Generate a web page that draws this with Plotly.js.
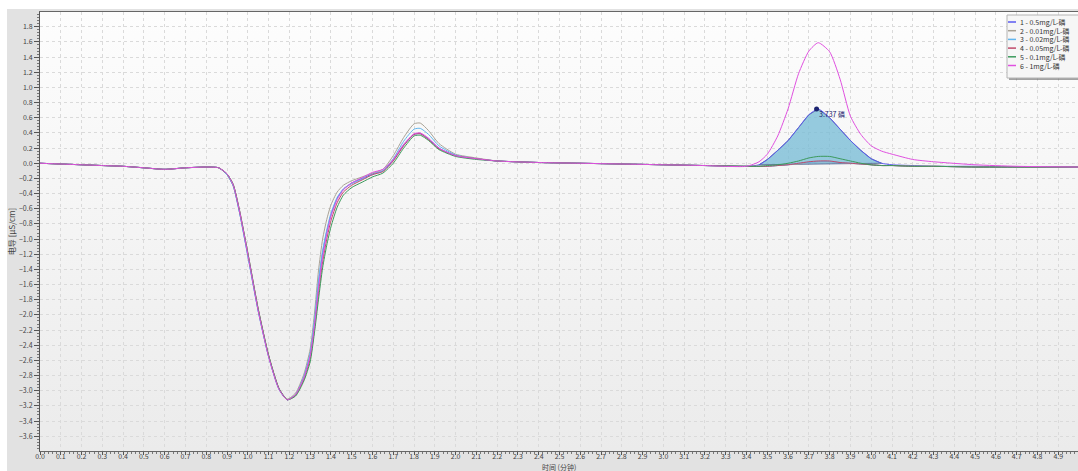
<!DOCTYPE html>
<html><head><meta charset="utf-8">
<script src="https://cdn.plot.ly/plotly-3.0.1.min.js"></script>
<style>html,body{margin:0;padding:0;background:#fff;}#chart{width:1078px;height:471px;}</style>
</head><body><div id="chart"></div>
<script>
// time axis (minutes)
const time = [0,0.1,0.2,0.3,0.4,0.5,0.6,0.7,0.8,0.86,
 0.9,0.93,0.96,1.0,1.05,1.1,1.15,1.19,1.23,1.27,
 1.3,1.32,1.34,1.36,1.38,1.4,1.43,1.46,1.5,1.55,
 1.6,1.65,1.7,1.75,1.8,1.83,1.87,1.92,2.0,2.1,
 2.2,2.4,2.6,2.8,3.0,3.2,3.4,3.46,3.5,3.55,
 3.6,3.65,3.7,3.745,3.8,3.85,3.9,3.95,4.0,4.05,
 4.1,4.2,4.3,4.5,4.7,5.0];

const s1 = [0,-0.01,-0.02,-0.03,-0.04,-0.06,-0.08,-0.06,-0.05,-0.06,
 -0.15,-0.3,-0.65,-1.22,-1.95,-2.55,-2.98,-3.12,-3.05,-2.82,
 -2.52,-2.12,-1.58,-1.18,-0.9,-0.68,-0.46,-0.34,-0.26,-0.2,
 -0.14,-0.1,0.04,0.24,0.38,0.39,0.32,0.2,0.1,0.06,
 0.03,0.01,0,-0.01,-0.02,-0.03,-0.04,-0.02,0.05,0.17,
 0.3,0.47,0.64,0.715,0.6,0.45,0.3,0.17,0.06,0,
 -0.02,-0.03,-0.04,-0.04,-0.05,-0.05];

const s2 = [0,-0.01,-0.02,-0.03,-0.04,-0.06,-0.08,-0.06,-0.05,-0.06,
 -0.15,-0.3,-0.64,-1.2,-1.93,-2.54,-2.97,-3.11,-3.03,-2.78,
 -2.45,-2.0,-1.42,-1.0,-0.74,-0.55,-0.38,-0.29,-0.23,-0.18,
 -0.13,-0.08,0.1,0.34,0.52,0.53,0.43,0.26,0.12,0.07,
 0.03,0.01,0,-0.01,-0.02,-0.03,-0.04,-0.04,-0.04,-0.03,
 -0.02,-0.01,0.01,0.02,0.02,0.01,0,-0.01,-0.02,-0.03,
 -0.03,-0.04,-0.04,-0.05,-0.05,-0.05];

const s3 = [0,-0.01,-0.02,-0.03,-0.04,-0.06,-0.08,-0.06,-0.05,-0.06,
 -0.15,-0.3,-0.65,-1.22,-1.95,-2.55,-2.98,-3.12,-3.05,-2.81,
 -2.5,-2.08,-1.55,-1.15,-0.88,-0.66,-0.45,-0.34,-0.27,-0.21,
 -0.15,-0.1,0.06,0.29,0.45,0.46,0.38,0.23,0.11,0.06,
 0.03,0.01,0,-0.01,-0.02,-0.03,-0.04,-0.04,-0.04,-0.03,
 -0.02,0,0.01,0.02,0.02,0.01,0,-0.01,-0.02,-0.03,
 -0.03,-0.04,-0.04,-0.05,-0.05,-0.05];

const s4 = [0,-0.01,-0.02,-0.03,-0.04,-0.06,-0.08,-0.06,-0.05,-0.06,
 -0.14,-0.28,-0.62,-1.18,-1.92,-2.53,-2.97,-3.12,-3.06,-2.85,
 -2.58,-2.2,-1.72,-1.3,-1.0,-0.76,-0.52,-0.38,-0.29,-0.22,
 -0.15,-0.11,0.03,0.23,0.38,0.39,0.31,0.19,0.1,0.06,
 0.03,0.01,0,-0.01,-0.02,-0.03,-0.04,-0.04,-0.04,-0.03,
 -0.02,0,0.02,0.03,0.03,0.01,0,-0.01,-0.02,-0.03,
 -0.03,-0.04,-0.04,-0.05,-0.05,-0.05];

const s5 = [0,-0.01,-0.02,-0.03,-0.04,-0.06,-0.08,-0.06,-0.05,-0.06,
 -0.14,-0.28,-0.62,-1.18,-1.92,-2.53,-2.97,-3.12,-3.07,-2.87,
 -2.62,-2.25,-1.8,-1.38,-1.08,-0.84,-0.58,-0.42,-0.32,-0.25,
 -0.18,-0.13,0,0.2,0.36,0.37,0.3,0.18,0.09,0.05,
 0.03,0.01,0,-0.01,-0.02,-0.03,-0.04,-0.04,-0.03,-0.02,
 0,0.03,0.07,0.09,0.09,0.06,0.03,0,-0.02,-0.03,
 -0.03,-0.04,-0.04,-0.05,-0.05,-0.05];

const s6 = [0,-0.01,-0.02,-0.03,-0.04,-0.06,-0.08,-0.06,-0.05,-0.06,
 -0.14,-0.29,-0.63,-1.2,-1.94,-2.55,-2.98,-3.12,-3.05,-2.83,
 -2.54,-2.16,-1.65,-1.24,-0.94,-0.7,-0.48,-0.35,-0.26,-0.19,
 -0.12,-0.08,0.05,0.25,0.39,0.4,0.33,0.2,0.1,0.06,
 0.03,0.01,0,-0.01,-0.02,-0.03,-0.04,0.02,0.12,0.36,
 0.72,1.18,1.48,1.59,1.47,1.11,0.62,0.38,0.23,0.16,
 0.12,0.05,0.02,-0.02,-0.04,-0.05];

const seriesNames = ['1 - 0.5mg/L-磷','2 - 0.01mg/L-磷','3 - 0.02mg/L-磷','4 - 0.05mg/L-磷','5 - 0.1mg/L-磷','6 - 1mg/L-磷'];
const seriesColors = ['#5a5af0','#a8a296','#62b6ee','#c04a6a','#3c9a5c','#e050e0'];
const seriesData = [s1,s2,s3,s4,s5,s6];

// integrated peak (series 1)
const peakTime = [3.737];
const peakValue = [0.715];
const peakLabel = '3.737 磷';
const fillFrom = 3.46, fillTo = 4.05;

const xTitle = '时间 (分钟)';
const yTitle = '电导 [μS/cm]';

const FONT = 'Noto Sans CJK SC, Noto Sans, sans-serif';

const traces = [];
// filled peak area
const fx = [], fy = [];
time.forEach((t,i)=>{ if(t>=fillFrom && t<=fillTo){ fx.push(t); fy.push(s1[i]); } });
fx.push(fx[0]); fy.push(fy[0]);
traces.push({x:fx, y:fy, type:'scatter', mode:'lines', fill:'toself',
  fillcolor:'rgba(120,188,214,0.78)', line:{color:'#4a5a8a', width:0.8, shape:'linear'},
  hoverinfo:'skip', showlegend:false});

seriesData.forEach((d,i)=>{
  traces.push({x:time, y:d, type:'scatter', mode:'lines', name:seriesNames[i],
    line:{color:seriesColors[i], width:1, shape:'spline', smoothing:0.6}, showlegend:false});
});

traces.push({x:peakTime, y:peakValue, type:'scatter', mode:'markers',
  marker:{color:'#1c2470', size:5}, showlegend:false, hoverinfo:'skip'});

// pixel helpers for decorations (plot area: x 40..1078, y 12..451)
const px = v => (v-40)/1038;
const py = v => (451-v)/439;

const shapes = [
  {type:'rect', xref:'paper', yref:'paper', x0:-0.2, x1:1.2, y0:py(9), y1:py(-5), fillcolor:'#ffffff', line:{width:0}, layer:'below'},
  {type:'rect', xref:'paper', yref:'paper', x0:px(-5), x1:px(7), y0:py(480), y1:py(-5), fillcolor:'#ffffff', line:{width:0}, layer:'below'},
  // legend shadow + box
  {type:'rect', xref:'paper', yref:'paper', x0:px(1009), x1:px(1085), y0:py(80), y1:py(17), fillcolor:'rgba(90,90,90,0.55)', line:{width:0}},
  {type:'rect', xref:'paper', yref:'paper', x0:px(1007), x1:px(1085), y0:py(78), y1:py(15), fillcolor:'#f6f6f6', line:{color:'#b4b4b4', width:1}}
];
const annotations = [
  {xref:'x', yref:'y', x:peakTime[0], y:peakValue[0], text:peakLabel, showarrow:false,
   xanchor:'left', yanchor:'middle', yshift:-5, font:{family:FONT, size:7, color:'#1c2470'}},
  {xref:'paper', yref:'paper', x:0.5, y:py(473), text:xTitle, showarrow:false, borderpad:0,
   xanchor:'center', yanchor:'bottom', font:{family:FONT, size:7, color:'#444'}}
];
seriesNames.forEach((n,i)=>{
  const yy = 22 + i*8.7;
  shapes.push({type:'line', xref:'paper', yref:'paper', x0:px(1008), x1:px(1016), y0:py(yy), y1:py(yy), line:{color:seriesColors[i], width:1.5}});
  annotations.push({xref:'paper', yref:'paper', x:px(1018), y:py(yy), text:n, showarrow:false,
    xanchor:'left', yanchor:'middle', font:{family:FONT, size:7, color:'#333'}});
});

const bgSvg = '<svg xmlns="http://www.w3.org/2000/svg" width="100" height="100" preserveAspectRatio="none"><defs><linearGradient id="g" x1="0" y1="0" x2="0" y2="1"><stop offset="0" stop-color="#fdfdfd"/><stop offset="1" stop-color="#ebebeb"/></linearGradient></defs><rect width="100" height="100" fill="url(#g)"/></svg>';

const layout = {
  width:1078, height:471,
  margin:{l:40, r:0, t:12, b:20, pad:0},
  paper_bgcolor:'#e2e2e2',
  plot_bgcolor:'#f5f5f5',
  font:{family:FONT, size:7, color:'#444'},
  showlegend:false,
  images:[{source:'data:image/svg+xml;charset=utf-8,'+encodeURIComponent(bgSvg), xref:'paper', yref:'paper',
    x:0, y:1, sizex:1, sizey:1, sizing:'stretch', xanchor:'left', yanchor:'top', layer:'below'}],
  xaxis:{range:[0,4.995], tick0:0, dtick:0.1, tickformat:'.1f', ticks:'outside', ticklen:3, tickcolor:'#555',
    ticklabelstandoff:-4,
    showline:true, linecolor:'#666', linewidth:1, mirror:true, zeroline:false,
    showgrid:true, gridcolor:'#dadada', griddash:'dot', gridwidth:1,
    minor:{dtick:0.02, ticks:'outside', ticklen:2, tickcolor:'#777', showgrid:false},
    tickfont:{family:FONT, size:7, color:'#444'},
    automargin:false, fixedrange:true},
  yaxis:{range:[-3.795,1.995], tick0:0, dtick:0.2, tickformat:'.1f', ticks:'outside', ticklen:5, tickcolor:'#555',
    showline:true, linecolor:'#555', linewidth:1, zeroline:false,
    showgrid:true, gridcolor:'#dadada', griddash:'dot', gridwidth:1,
    minor:{dtick:0.04, ticks:'outside', ticklen:2, tickcolor:'#777', showgrid:false},
    tickfont:{family:FONT, size:7, color:'#444'},
    title:{text:yTitle, font:{family:FONT, size:8, color:'#444'}, standoff:2},
    automargin:false, fixedrange:true},
  shapes:shapes,
  annotations:annotations
};

Plotly.newPlot('chart', traces, layout, {displayModeBar:false, staticPlot:true});
</script>
</body></html>
